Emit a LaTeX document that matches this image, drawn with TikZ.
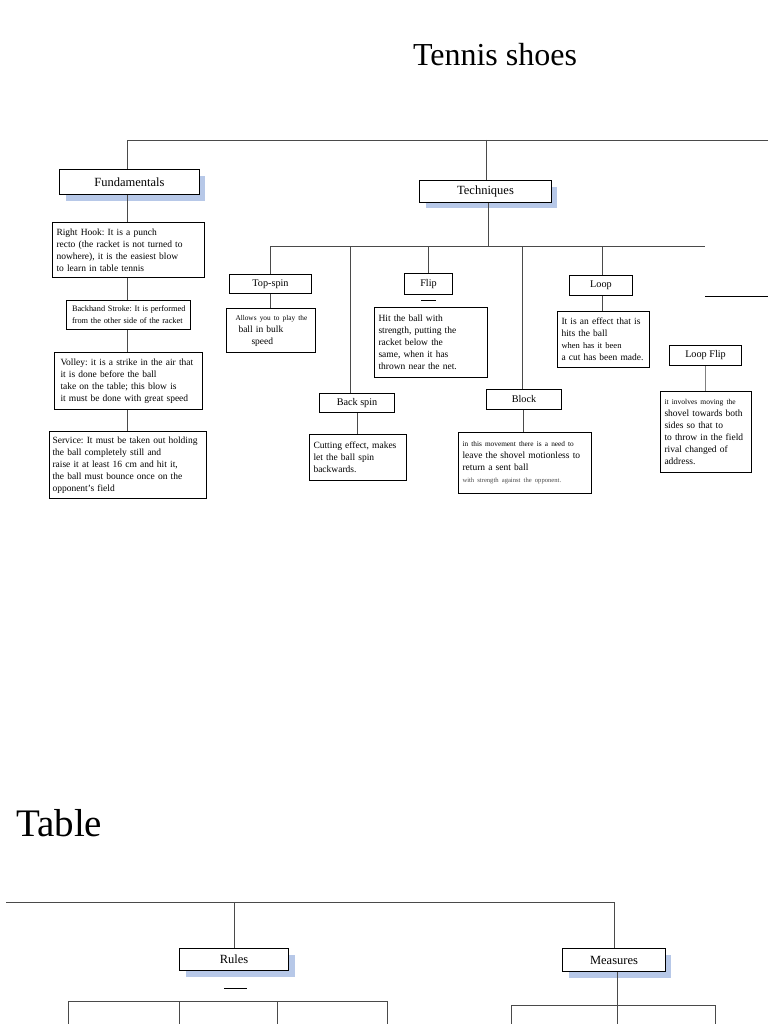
\documentclass[tikz,border=0pt]{standalone}
\usepackage{fontspec}
\setmainfont{Liberation Serif}
\frenchspacing
\hyphenpenalty=10000
\exhyphenpenalty=10000
\definecolor{shade}{HTML}{B7C8E8}
\definecolor{conn}{HTML}{4A4A4A}
\begin{document}
\begin{tikzpicture}[x=1pt,y=-1pt,
  lbl/.style={draw=black,line width=1pt,fill=white,anchor=north west,inner sep=0pt,align=center,font=\fontsize{10.2}{11}\selectfont},
  mainlbl/.style={lbl,font=\fontsize{12.5}{13}\selectfont},
  desc/.style={draw=black,line width=1pt,fill=white,anchor=north west,inner xsep=4pt,inner ysep=0pt,align=left,font=\fontsize{9.5}{12}\selectfont},
  sh/.style={fill=shade,draw=none},
  ln/.style={draw=conn,line width=0.8pt},
  blackbar/.style={draw=black,line width=1pt}]
\useasboundingbox (0,0) rectangle (768,1024);
\fill[white] (0,0) rectangle (768,1024);

% titles
\node[font=\fontsize{32}{36}\selectfont,anchor=base] (title) at (495,66) {Tennis shoes};
\node[font=\fontsize{39}{42}\selectfont,anchor=base west,inner sep=0pt] (table) at (16,836) {Table};

% shadows
\fill[sh] (66,176) rectangle (205,201);
\fill[sh] (426,187) rectangle (557,208);
\fill[sh] (186,955) rectangle (295,977);
\fill[sh] (569,955) rectangle (671,978);

% main nodes
\node[mainlbl,minimum width=140,minimum height=25] (fund) at (59,169) {Fundamentals};
\node[mainlbl,minimum width=132,minimum height=22] (tech) at (419,180) {Techniques};
\node[mainlbl,minimum width=109,minimum height=22] (rules) at (179,948) {Rules};
\node[mainlbl,minimum width=103,minimum height=23] (meas) at (562,948) {Measures};

% fundamentals column
\node[desc,minimum height=55,text width=144] (rh) at (52,222) {Right Hook: It is a punch\\recto (the racket is not turned to\\nowhere), it is the easiest blow\\to learn in table tennis};
\node[desc,minimum height=29,text width=121,inner xsep=1.5pt,font=\fontsize{8.3}{12}\selectfont] (bh) at (66,300) {\hspace{4pt}Backhand Stroke: It is performed\\\hspace{4pt}from the other side of the racket};
\node[desc,minimum height=57,text width=140] (vol) at (54,352) {\hspace{2pt}Volley: it is a strike in the air that\\\hspace{2pt}it is done before the ball\\\hspace{2pt}take on the table; this blow is\\\hspace{2pt}it must be done with great speed};
\node[desc,minimum height=67,text width=151,inner xsep=3pt,inner ysep=3pt] (srv) at (49,431) {Service: It must be taken out holding\\the ball completely still and\\raise it at least 16 cm and hit it,\\the ball must bounce once on the\\opponent's field};

% techniques
\node[lbl,minimum width=82,minimum height=19] (ts) at (229,274) {Top-spin};
\node[desc,minimum height=44,text width=81,inner ysep=2pt] (tsd) at (226,308) {{\fontsize{7.3}{9}\selectfont\hspace{5pt}Allows you to play the}\\\hspace{8pt}ball in bulk\\\hspace{21pt}speed};
\node[lbl,minimum width=48,minimum height=21] (flip) at (404,273) {Flip};
\node[desc,minimum height=70,text width=105] (flipd) at (374,307) {Hit the ball with\\strength, putting the\\racket below the\\same, when it has\\thrown near the net.};
\node[lbl,minimum width=75,minimum height=19] (bs) at (319,393) {Back spin};
\node[desc,minimum height=46,text width=89] (bsd) at (309,434) {Cutting effect, makes\\let the ball spin\\backwards.};
\node[lbl,minimum width=75,minimum height=20] (blk) at (486,389) {Block};
\node[desc,minimum height=61,text width=125,inner ysep=2pt] (blkd) at (458,432) {{\fontsize{7.3}{8}\selectfont in this movement there is a need to}\\leave the shovel motionless to\\return a sent ball\\{\fontsize{6.6}{8}\selectfont\color{conn}with strength against the opponent.}};
\node[lbl,minimum width=63,minimum height=20] (loop) at (569,275) {Loop};
\node[desc,minimum height=56,text width=84,inner ysep=2pt] (loopd) at (557,311) {It is an effect that is\\hits the ball\\{\fontsize{8.5}{11}\selectfont when has it been}\\a cut has been made.};
\node[lbl,minimum width=72,minimum height=20] (lf) at (669,345) {Loop Flip};
\node[desc,minimum height=81,text width=83,inner ysep=3pt] (lfd) at (660,391) {{\fontsize{7.5}{10}\selectfont it involves moving the}\\shovel towards both\\sides so that to\\to throw in the field\\rival changed of\\address.};

% coordinates for free ends
\coordinate (topR) at (768,140);
\coordinate (topL) at (127,140);
\coordinate (topT) at (486,140);
\coordinate (tBus) at (488,246);
\coordinate (busL) at (270,246);
\coordinate (busR) at (705,246);
\coordinate (sideL) at (705,296);
\coordinate (sideR) at (768,296);
\coordinate (botL) at (6,902);
\coordinate (botR) at (614,902);
\coordinate (botRu) at (234,902);

% top connectors
\draw[ln] (topR) -- (topL) -- (fund.north -| topL);
\draw[ln] (topT) -- (tech.north -| topT);
\draw[ln] (fund.south -| topL) -- (rh.north -| topL);
\draw[ln] (rh.south -| topL) -- (bh.north -| topL);
\draw[ln] (bh.south -| topL) -- (vol.north -| topL);
\draw[ln] (vol.south -| topL) -- (srv.north -| topL);

% techniques bus
\draw[ln] (tech.south -| tBus) -- (tBus);
\draw[ln] (busL) -- (busR);
\draw[ln] (busL) -- (ts.north -| busL);
\draw[ln] (350,246) -- (bs.north -| 350,0);
\draw[ln] (428,246) -- (flip.north -| 428,0);
\draw[ln] (522,246) -- (blk.north -| 522,0);
\draw[ln] (602,246) -- (loop.north -| 602,0);
\draw[ln] (ts.south -| busL) -- (tsd.north -| busL);
\draw[ln] (bs.south -| 357,0) -- (bsd.north -| 357,0);
\draw[ln] (blk.south -| 523,0) -- (blkd.north -| 523,0);
\draw[ln] (loop.south -| 602,0) -- (loopd.north -| 602,0);
\draw[ln,draw=gray] (lf.south -| 705,0) -- (lfd.north -| 705,0);
\draw[blackbar] (sideL) -- (sideR);
\draw[blackbar] (421,300) -- (436,300);

% table section
\draw[ln] (botL) -- (botR) -- (meas.north -| botR);
\draw[ln] (botRu) -- (rules.north -| botRu);
\draw[blackbar] (224,988) -- (247,988);
\draw[ln] (68,1024) -- (68,1001) -- (387,1001) -- (387,1024);
\draw[ln] (179,1001) -- (179,1024);
\draw[ln] (277,1001) -- (277,1024);
\draw[ln] (meas.south -| 617,0) -- (617,1005);
\draw[ln] (511,1024) -- (511,1005) -- (715,1005) -- (715,1024);
\draw[ln] (617,1005) -- (617,1024);
\end{tikzpicture}
\end{document}
